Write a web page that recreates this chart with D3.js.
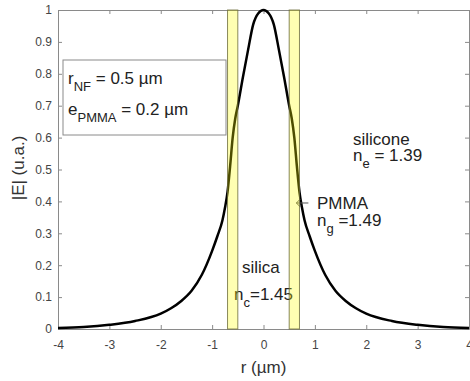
<!DOCTYPE html>
<html>
<head>
<meta charset="utf-8">
<script src="https://cdn.jsdelivr.net/npm/d3@7"></script>
<style>
  body { margin: 0; background: #fff; }
  svg { font-family: "Liberation Sans", Arial, sans-serif; display: block; }
</style>
</head>
<body>
<div id="chart"></div>
<script>
// field profile |E|
const rValues = [-4, -3.5, -3, -2.5, -2, -1.8, -1.6, -1.4, -1.2, -1, -0.9, -0.8, -0.75, -0.7, -0.65, -0.6, -0.55, -0.5, -0.4, -0.3, -0.2, -0.1, 0,
                 0.1, 0.2, 0.3, 0.4, 0.5, 0.55, 0.6, 0.65, 0.7, 0.75, 0.8, 0.9, 1, 1.2, 1.4, 1.6, 1.8, 2, 2.5, 3, 3.5, 4];
const eValues = [0.003, 0.006, 0.013, 0.025, 0.048, 0.065, 0.088, 0.12, 0.17, 0.245, 0.29, 0.34, 0.38, 0.43, 0.51, 0.60, 0.66, 0.70, 0.79, 0.875, 0.955, 0.99, 1.0,
                 0.99, 0.955, 0.875, 0.79, 0.70, 0.66, 0.60, 0.51, 0.43, 0.38, 0.34, 0.29, 0.245, 0.17, 0.12, 0.088, 0.065, 0.048, 0.025, 0.013, 0.006, 0.003];

// PMMA shell bands (µm)
const bandStarts = [-0.7, 0.5];
const bandEnds = [-0.5, 0.7];

const xTicks = [-4, -3, -2, -1, 0, 1, 2, 3, 4];
const xTickLabels = ["-4", "-3", "-2", "-1", "0", "1", "2", "3", "4"];
const yTicks = [0, 0.1, 0.2, 0.3, 0.4, 0.5, 0.6, 0.7, 0.8, 0.9, 1];
const yTickLabels = ["0", "0.1", "0.2", "0.3", "0.4", "0.5", "0.6", "0.7", "0.8", "0.9", "1"];

const W = 470, H = 381;
const margin = { top: 10, right: 1, bottom: 52, left: 58 };
const width = W - margin.left - margin.right;
const height = H - margin.top - margin.bottom;

const svg = d3.select('#chart').append('svg')
  .attr('width', W)
  .attr('height', H);

const g = svg.append('g')
  .attr('transform', `translate(${margin.left},${margin.top})`);

const x = d3.scaleLinear().domain([-4, 4]).range([0, width]);
const y = d3.scaleLinear().domain([0, 1]).range([height, 0]);

const axisColor = '#8a8a8a';
const textColor = '#444';

function styleAxis(sel, showText) {
  sel.select('.domain').attr('stroke', axisColor);
  sel.selectAll('.tick line').attr('stroke', axisColor);
  sel.selectAll('.tick text')
    .attr('fill', textColor)
    .style('font-size', '12px')
    .style('display', showText ? null : 'none');
}

g.append('g')
  .attr('transform', `translate(0,${height})`)
  .call(d3.axisBottom(x).tickValues(xTicks).tickFormat((d, i) => xTickLabels[i])
    .tickSizeInner(-4).tickSizeOuter(0).tickPadding(11))
  .call(s => styleAxis(s, true));

g.append('g')
  .call(d3.axisTop(x).tickValues(xTicks).tickSizeInner(-4).tickSizeOuter(0))
  .call(s => styleAxis(s, false));

g.append('g')
  .call(d3.axisLeft(y).tickValues(yTicks).tickFormat((d, i) => yTickLabels[i])
    .tickSizeInner(-4).tickSizeOuter(0).tickPadding(6))
  .call(s => styleAxis(s, true));

g.append('g')
  .attr('transform', `translate(${width},0)`)
  .call(d3.axisRight(y).tickValues(yTicks).tickSizeInner(-4).tickSizeOuter(0))
  .call(s => styleAxis(s, false));

// field curve
const line = d3.line()
  .x((d, i) => x(rValues[i]))
  .y(d => y(d))
  .curve(d3.curveMonotoneX);

g.append('path')
  .datum(eValues)
  .attr('fill', 'none')
  .attr('stroke', '#000')
  .attr('stroke-width', 2.5)
  .attr('d', line);

// annotations
const fs = 17;
function richText(px, py, parts) {
  const t = g.append('text')
    .attr('x', px).attr('y', py)
    .attr('fill', '#222')
    .style('font-size', fs + 'px');
  parts.forEach(p => {
    const s = t.append('tspan').text(p.t);
    if (p.sub) s.attr('dy', 7).style('font-size', '13px');
    if (p.back) s.attr('dy', -7);
  });
  return t;
}

// parameter box
g.append('rect')
  .attr('x', 63 - margin.left).attr('y', 60 - margin.top)
  .attr('width', 163).attr('height', 75)
  .attr('fill', '#fff')
  .attr('stroke', '#8a8a8a');

richText(68 - margin.left, 84 - margin.top, [{ t: 'r' }, { t: 'NF', sub: true }, { t: ' = 0.5 µm', back: true }]);
richText(68 - margin.left, 115 - margin.top, [{ t: 'e' }, { t: 'PMMA', sub: true }, { t: ' = 0.2 µm', back: true }]);

richText(353 - margin.left, 145 - margin.top, [{ t: 'silicone' }]);
richText(353 - margin.left, 161 - margin.top, [{ t: 'n' }, { t: 'e', sub: true }, { t: ' = 1.39', back: true }]);

richText(317 - margin.left, 209 - margin.top, [{ t: 'PMMA' }]);
richText(317 - margin.left, 226 - margin.top, [{ t: 'n' }, { t: 'g', sub: true }, { t: ' =1.49', back: true }]);

richText(242 - margin.left, 273 - margin.top, [{ t: 'silica' }]);
richText(234 - margin.left, 300 - margin.top, [{ t: 'n' }, { t: 'c', sub: true }, { t: '=1.45', back: true }]);

// arrow pointing to PMMA shell
const ay = y(0.395);
const ax = x(0.64);
g.append('path')
  .attr('d', `M${ax + 12},${ay} L${ax},${ay} M${ax + 4},${ay - 4} L${ax},${ay} L${ax + 4},${ay + 4}`)
  .attr('fill', 'none')
  .attr('stroke', '#555')
  .attr('stroke-width', 1);

// translucent PMMA bands on top
g.append('g')
  .selectAll('rect')
  .data(bandStarts)
  .join('rect')
  .attr('x', d => x(d))
  .attr('y', 0)
  .attr('width', (d, i) => x(bandEnds[i]) - x(d))
  .attr('height', height)
  .attr('fill', '#ffff00')
  .attr('fill-opacity', 0.3)
  .attr('stroke', '#6b6b3a')
  .attr('stroke-opacity', 0.8)
  .attr('stroke-width', 1);

// axis titles
svg.append('text')
  .attr('x', margin.left + x(0))
  .attr('y', 373)
  .attr('text-anchor', 'middle')
  .attr('fill', '#333')
  .style('font-size', '17px')
  .text('r (µm)');

svg.append('text')
  .attr('transform', 'translate(24,168) rotate(-90)')
  .attr('text-anchor', 'middle')
  .attr('fill', '#333')
  .style('font-size', '17px')
  .text('|E| (u.a.)');
</script>
</body>
</html>
